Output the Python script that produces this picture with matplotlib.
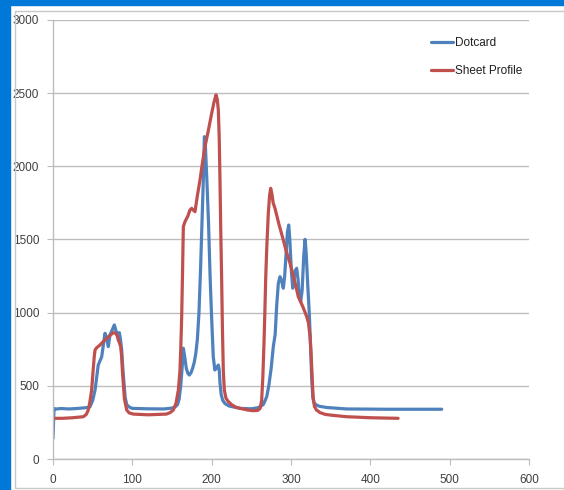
import matplotlib.pyplot as plt
from matplotlib.patches import Rectangle

plt.rcParams['font.family'] = ['Liberation Sans', 'DejaVu Sans']

# Dotcard (blue)
dot_x = [0, 1.3, 1.5, 10, 20, 30, 40, 44, 46.6, 50, 53, 57, 61.4, 63.5, 65.5, 67.5, 69.7,
         71.8, 74.5, 77.3, 80.3, 83.6, 85, 86.6, 88, 89.5, 91, 93, 97, 100, 120, 140, 150,
         154, 157, 159, 161, 163, 164.3, 166, 168, 170, 171.9, 174, 176, 178, 180, 182,
         184, 186, 188, 190, 190.8, 192, 194, 196, 198, 200, 202, 204, 206, 208.4, 209.5,
         210.5, 212, 214, 217, 222, 228, 236, 250, 258, 261, 265, 267, 269.4, 272, 275,
         277.7, 280, 282, 284, 286.2, 288, 290.3, 292, 294, 295.5, 297.1, 298.5, 300.5,
         302.2, 304, 305.5, 307.2, 309, 310.5, 312.2, 314, 316, 317.7, 319, 321, 323,
         324.5, 326, 327.5, 329, 332, 336, 345, 370, 420, 490]
dot_y = [141, 346, 340, 345, 342, 345, 350, 352, 357, 400, 471, 642, 699, 780, 859, 830, 768,
         848, 880, 916, 859, 863, 820, 745, 620, 517, 420, 370, 352, 346, 343, 342, 348,
         356, 372, 410, 500, 640, 757, 700, 620, 585, 574, 590, 620, 660, 720, 820,
         1000, 1300, 1650, 2000, 2203, 2150, 1900, 1620, 1250, 960, 700, 608, 620, 642, 610,
         520, 440, 400, 378, 362, 355, 346, 343, 350, 357, 372, 395, 426, 500, 620,
         768, 850, 1050, 1200, 1246, 1220, 1167, 1250, 1420, 1550, 1599, 1500, 1280,
         1167, 1240, 1290, 1303, 1220, 1110, 1075, 1150, 1380, 1501, 1420, 1200, 1000,
         800, 560, 420, 385, 369, 360, 352, 342, 340, 340]

# Sheet Profile (red)
sheet_x = [0, 1.3, 12, 25, 38.2, 42, 44.5, 46.5, 48.7, 50.5,
           52, 53, 55, 59.2, 63, 67.7, 72, 76, 79, 81,
           82.3, 84, 85.3, 86.5, 87.5, 88.6, 90, 92.9, 96, 101,
           120, 143, 148, 151.6, 155, 158, 160, 161.2, 162.2, 163.2,
           164.3, 166.4, 170, 172.5, 174.8, 177, 179, 182, 185.3, 188,
           191.6, 196, 200, 203, 205.5, 207, 208.4, 209.5, 210.5, 211.5,
           212.6, 213.6, 214.7, 216, 218, 221, 225, 230, 236, 245,
           252.5, 258, 261, 263, 264.5, 266, 267, 268.2, 269.5, 271.4,
           273, 274.4, 276, 277.5, 279.8, 285, 290.3, 294, 298.8, 304,
           309.2, 315, 319.8, 322, 324, 325.5, 327, 328, 329.5, 332,
           336.6, 343, 350, 370, 400, 435]
sheet_y = [271, 278, 278, 282, 289, 305, 335, 390, 471, 600,
           700, 745, 760, 779, 800, 825, 845, 863, 860, 840,
           813, 790, 768, 700, 600, 517, 410, 335, 315, 307,
           302, 307, 318, 335, 380, 471, 600, 780, 973, 1250,
           1588, 1622, 1660, 1700, 1713, 1700, 1690, 1800, 1907, 2010,
           2135, 2250, 2362, 2440, 2488, 2460, 2385, 2200, 1900, 1550,
           1223, 880, 600, 470, 415, 392, 372, 355, 346, 335,
           330, 332, 345, 400, 560, 800, 996, 1250, 1450, 1679,
           1800, 1850, 1810, 1750, 1713, 1600, 1497, 1420, 1337, 1230,
           1109, 1040, 973, 930, 836, 700, 520, 420, 360, 335,
           317, 305, 300, 289, 282, 278]

fig = plt.figure(figsize=(5.64, 4.90), dpi=100)

# window frame bits (blue strips + chart border)
fig.patches.append(Rectangle((0, 0), 10 / 564, 1, transform=fig.transFigure,
                             color='#0078D7', zorder=0))
fig.patches.append(Rectangle((0, 1 - 5 / 490), 1, 5 / 490, transform=fig.transFigure,
                             color='#0078D7', zorder=0))
fig.patches.append(Rectangle((15 / 564, 2 / 490), 1, 1 - 13 / 490, transform=fig.transFigure,
                             fill=False, edgecolor='#C8C8C8', lw=1, zorder=0))

ax = fig.add_axes([53 / 564, 31 / 490, 476 / 564, 439 / 490])
ax.plot(dot_x, dot_y, color='#4F81BD', lw=2.3, label='Dotcard',
        solid_joinstyle='round', solid_capstyle='round')
ax.plot(sheet_x, sheet_y, color='#C0504D', lw=2.3, label='Sheet Profile',
        solid_joinstyle='round', solid_capstyle='round')

ax.set_xlim(0, 600)
ax.set_ylim(0, 3000)
ax.set_xticks(range(0, 601, 100))
ax.set_yticks(range(0, 3001, 500))
ax.yaxis.grid(True, color='#BDBDBD', lw=1)
ax.set_axisbelow(True)
for s in ['top', 'right']:
    ax.spines[s].set_visible(False)
for s in ['left', 'bottom']:
    ax.spines[s].set_color('#BDBDBD')
    ax.spines[s].set_linewidth(1)
ax.tick_params(axis='both', colors='#BDBDBD', labelcolor='#404040', labelsize=8.5, length=4)
ax.tick_params(axis='y', pad=6)
ax.tick_params(axis='x', pad=7)

ax.legend(loc='upper left', bbox_to_anchor=(0.771, 0.985), frameon=False, fontsize=8.5,
          handlelength=1.9, handletextpad=0.15, labelspacing=1.35, labelcolor='#202020')

fig.savefig('out.png', dpi=100)
